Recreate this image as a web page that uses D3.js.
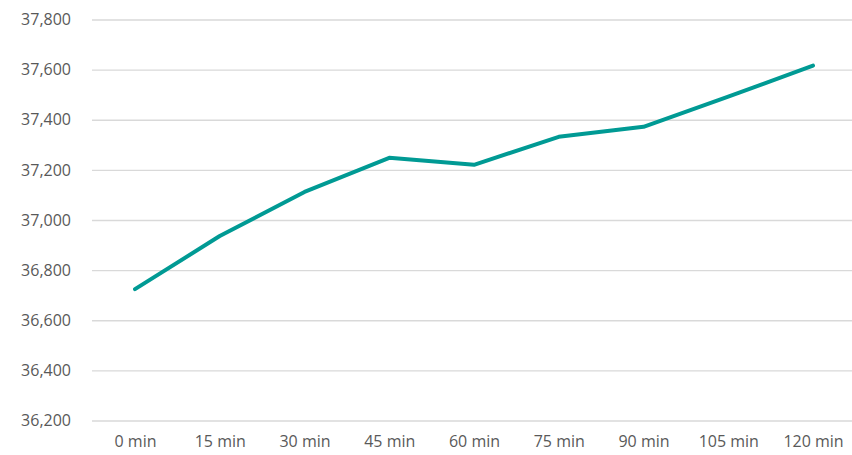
<!DOCTYPE html>
<html>
<head>
<meta charset="utf-8">
<script src="https://cdn.jsdelivr.net/npm/d3@7"></script>
<style>
  body { margin: 0; background: #fff; }
  .tick text { font-family: "Open Sans", "DejaVu Sans", sans-serif; font-size: 16px; fill: #595959; }
</style>
</head>
<body>
<div id="cont"></div>
<script>
// chart data
var categories = ["0 min", "15 min", "30 min", "45 min", "60 min", "75 min", "90 min", "105 min", "120 min"];
var values = [36724, 36936, 37112, 37248, 37220, 37332, 37372, 37492, 37616];
var yTicks = [36200, 36400, 36600, 36800, 37000, 37200, 37400, 37600, 37800];

var width = 852, height = 455;

var svg = d3.select("#cont").append("svg")
    .attr("width", width)
    .attr("height", height);

// scales
var x = d3.scalePoint().domain(categories).range([135, 813]);
var y = d3.scaleLinear().domain([36200, 37800]).range([420.5, 19.5]);

// gridlines + y labels
var yAxis = svg.append("g")
    .attr("transform", "translate(92,0)")
    .call(d3.axisLeft(y).tickValues(yTicks).tickSize(-(width - 92)).tickPadding(21)
      .tickFormat(d3.format(",")));
yAxis.select(".domain").remove();
yAxis.selectAll(".tick line").attr("stroke", "#d9d9d9").attr("stroke-width", 1.3);

// x labels
var xAxis = svg.append("g")
    .attr("transform", "translate(0,421)")
    .call(d3.axisBottom(x).tickSize(0).tickPadding(15));
xAxis.select(".domain").remove();

// the line
var valueline = d3.line()
    .x(function(d, i) { return x(categories[i]); })
    .y(function(d) { return y(d); });

svg.append("path")
    .datum(values)
    .attr("fill", "none")
    .attr("stroke", "#009a94")
    .attr("stroke-width", 4)
    .attr("stroke-linecap", "round")
    .attr("stroke-linejoin", "round")
    .attr("d", valueline);
</script>
</body>
</html>
